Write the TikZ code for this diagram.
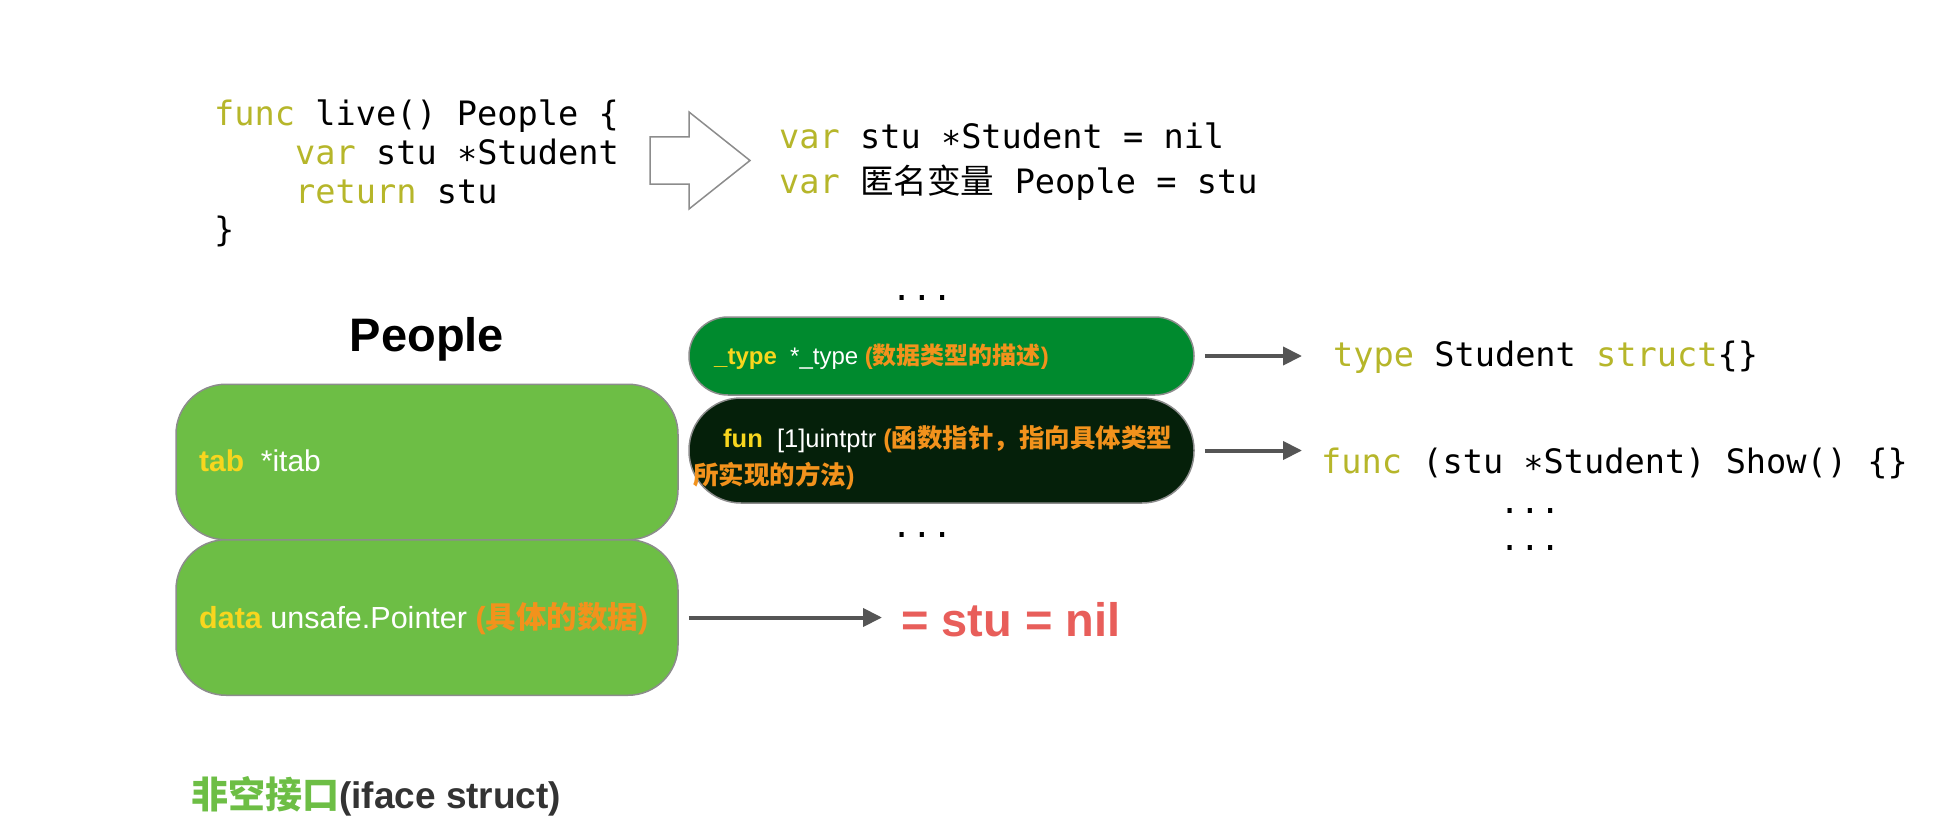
\documentclass[tikz,border=0pt]{standalone}
\usepackage{fontspec}
\setmainfont{Liberation Sans}
\setmonofont{DejaVu Sans Mono}
\newfontfamily\cjk{Noto Sans CJK SC}
\newcommand{\zh}[1]{{\cjk #1}}
\usetikzlibrary{arrows.meta}
\definecolor{kw}{RGB}{182,182,42}
\definecolor{boxgreen}{RGB}{109,190,69}
\definecolor{typegreen}{RGB}{0,138,46}
\definecolor{fundark}{RGB}{5,32,10}
\definecolor{yel}{RGB}{248,214,30}
\definecolor{ora}{RGB}{242,146,28}
\definecolor{redc}{RGB}{232,94,90}
\definecolor{arrowgray}{RGB}{85,85,85}
\definecolor{bordergray}{RGB}{140,140,140}
\definecolor{darkt}{RGB}{51,51,51}
\begin{document}
\begin{tikzpicture}[x=1pt,y=-1pt,
  code/.style={anchor=base west, inner sep=0pt, font=\fontsize{33.6}{38.6}\selectfont\ttfamily},
  lbox/.style={draw=bordergray, line width=1.5pt, fill=boxgreen, rounded corners=50pt, minimum width=502pt, minimum height=155.5pt, inner sep=0pt},
  pill/.style={draw=bordergray, line width=1.5pt, minimum width=505pt, inner sep=0pt},
  lbl/.style={anchor=base west, inner sep=0pt},
  conn/.style={draw=arrowgray, line width=4pt, -{Triangle[length=19pt,width=18pt]}},
]
\useasboundingbox (0,0) rectangle (1954,832);
\fill[white] (0,0) rectangle (1954,832);

% code on the left
\node[code] (l1) at (214,126) {\textcolor{kw}{func} live() People \{};
\node[code] (l2) at (295,164.6) {\textcolor{kw}{var} stu ∗Student};
\node[code] (l3) at (295,203.2) {\textcolor{kw}{return} stu};
\node[code] (l4) at (214,241.8) {\}};

% hollow arrow
\draw[draw=bordergray, line width=1.5pt, fill=white, line join=miter]
  (650,137) -- (689,137) -- (689,112) -- (750,160.5) -- (689,209) -- (689,184) -- (650,184) -- cycle;

% code on the right
\node[code] (r1) at (779,149) {\textcolor{kw}{var} stu ∗Student = nil};
\node[code] (r2) at (779,193) {\textcolor{kw}{var} \zh{匿名变量} People = stu};

% title
\node[anchor=base, inner sep=0pt, font=\fontsize{47}{50}\selectfont\bfseries] (title) at (427,351) {People};

% left boxes
\node[lbox] (tabbox) at (427,462) {};
\node[lbox] (databox) at (427,617.5) {};
\node[lbl, font=\fontsize{30}{36}\selectfont] (tabtext) at (199,471) {\textcolor{yel}{\bfseries tab}\ \ \textcolor{white}{*itab}};
\node[lbl, font=\fontsize{30.5}{36}\selectfont] (datatext) at (199,628) {\textcolor{yel}{\bfseries data} \textcolor{white}{unsafe.Pointer} \textcolor{ora}{\bfseries(\zh{具体的数据})}};

% pills
\node[code, anchor=base] (d3) at (922,300) {...};
\node[pill, fill=typegreen, minimum height=78pt, rounded corners=39pt] (tpill) at (941.5,356) {};
\node[pill, fill=fundark, minimum height=105pt, rounded corners=52pt] (fpill) at (941.5,450.5) {};
\node[code, anchor=base] (d4) at (922,537) {...};
\node[lbl, font=\fontsize{24}{30}\selectfont] (ttext) at (714,364) {\textcolor{yel}{\bfseries \_type}\ \ \textcolor{white}{*\_type} \textcolor{ora}{\bfseries(\zh{数据类型的描述})}};
\node[lbl, font=\fontsize{25.5}{30}\selectfont] (ftext1) at (723,447) {\textcolor{yel}{\bfseries fun}\ \ \textcolor{white}{[1]uintptr} \textcolor{ora}{\bfseries(\zh{函数指针，指向具体类型}}};
\node[lbl, font=\fontsize{25.5}{30}\selectfont] (ftext2) at (693,484) {\textcolor{ora}{\bfseries\zh{所实现的方法})}};

% targets
\node[code] (tstruct) at (1333,366) {\textcolor{kw}{type} Student \textcolor{kw}{struct}\{\}};
\node[code] (fshow) at (1321,473) {\textcolor{kw}{func} (stu ∗Student) Show() \{\}};
\node[code, anchor=base] (d1) at (1530,513) {...};
\node[code, anchor=base] (d2) at (1530,550) {...};
\node[lbl, font=\fontsize{47}{50}\selectfont\bfseries, text=redc] (nil) at (901,636) {= stu = nil};

% connectors
\draw[conn, shorten <=10pt, shorten >=31pt] (tpill.east) -- (tpill.east -| tstruct.west);
\draw[conn, shorten <=10pt, shorten >=19pt] (fpill.east) -- (fpill.east -| fshow.west);
\draw[conn, shorten <=10pt, shorten >=19pt] (databox.east) -- (databox.east -| nil.west);

% caption
\node[lbl, font=\fontsize{37}{40}\selectfont\bfseries] (cap) at (191,808) {\textcolor{boxgreen}{\zh{非空接口}}\textcolor{darkt}{(iface struct)}};
\end{tikzpicture}
\end{document}
